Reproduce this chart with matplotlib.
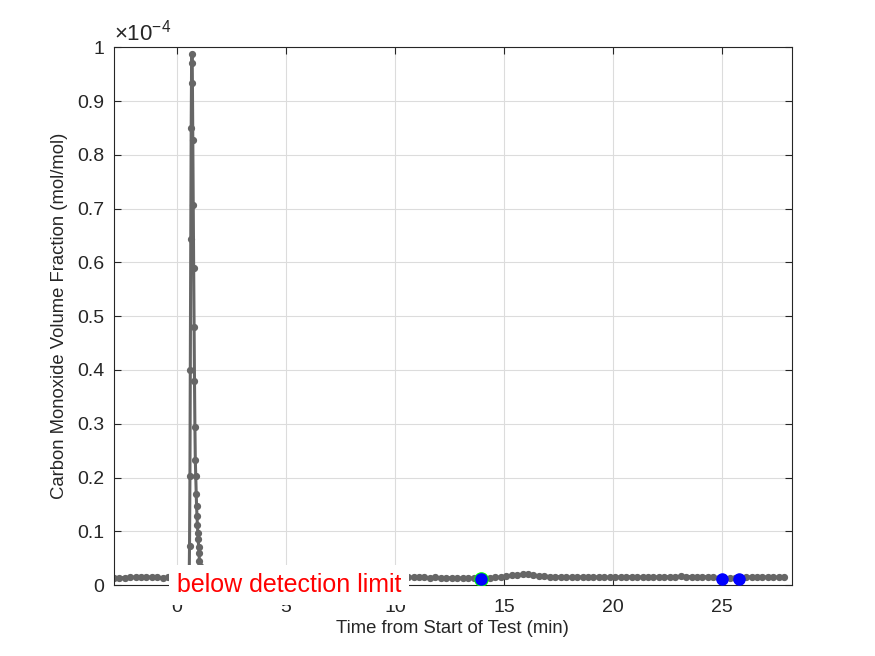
import numpy as np
import matplotlib
matplotlib.use("Agg")
import matplotlib.pyplot as plt
from matplotlib.ticker import FuncFormatter, MultipleLocator

plt.rcParams['font.family'] = ['Liberation Sans', 'DejaVu Sans']
plt.rcParams['mathtext.fontset'] = 'custom'
plt.rcParams['mathtext.rm'] = 'Liberation Sans'

# CO volume fraction, in units of 1e-6 mol/mol
t_pre_start = -2.9
co_pre = [1.35, 1.4, 1.4, 1.45, 1.5, 1.5, 1.45, 1.55, 1.45, 1.4, 1.45, 1.4, 1.4, 1.4]

spike_t = [0.56, 0.575, 0.594, 0.613, 0.632, 0.651, 0.670, 0.689, 0.708, 0.727, 0.746,
           0.765, 0.784, 0.803, 0.822, 0.841, 0.860, 0.879, 0.898, 0.917, 0.936,
           0.955, 0.974, 0.993, 1.012, 1.031, 1.05, 1.07, 1.09, 1.11, 1.15, 1.2]
spike_co = [1.4, 7.2, 20.3, 40.0, 64.3, 84.9, 97.0, 98.7, 93.3, 82.7, 70.6,
            59.0, 48.0, 38.0, 29.4, 23.2, 20.3, 16.9, 14.7, 12.8, 11.2,
            9.7, 8.5, 7.1, 6.0, 4.5, 3.6, 2.9, 2.4, 2.0, 1.7, 1.5]

t_post_start = 1.35
co_post = [1.4, 1.45, 1.4, 1.35, 1.4, 1.45, 1.5, 1.45, 1.4, 1.4,
           1.35, 1.4, 1.45, 1.4, 1.4, 1.5, 1.45, 1.4, 1.35, 1.4,
           1.45, 1.4, 1.4, 1.35, 1.4, 1.45, 1.5, 1.45, 1.4, 1.4,
           1.35, 1.4, 1.45, 1.4, 1.45, 1.5, 1.5,
           1.5, 1.45, 1.5, 1.45, 1.4, 1.45, 1.4, 1.35, 1.4, 1.35,
           1.3, 1.35, 1.3, 1.3, 1.35, 1.4, 1.45, 1.5, 1.65, 1.85,
           1.9, 2.0, 2.05, 1.9, 1.75, 1.7, 1.6, 1.6, 1.55, 1.5,
           1.45, 1.5, 1.55, 1.5, 1.55, 1.5, 1.45, 1.5, 1.55, 1.5,
           1.55, 1.6, 1.55, 1.5, 1.55, 1.5, 1.55, 1.6, 1.55, 1.6,
           1.65, 1.6, 1.6, 1.55, 1.6, 1.55, 1.5, 1.4, 1.35, 1.35,
           1.4, 1.4, 1.5, 1.55, 1.5, 1.55, 1.5, 1.45, 1.5, 1.45]
step = 0.25

green_t = [0.0, 13.95]
green_co = [1.1, 1.1]
blue_t = [13.95, 25.0, 25.78]
blue_co = [1.1, 1.1, 1.1]

t_pre = t_pre_start + step * np.arange(len(co_pre))
t_post = t_post_start + step * np.arange(len(co_post))
t = np.concatenate([t_pre, spike_t, t_post])
co = np.concatenate([co_pre, spike_co, co_post]) * 1e-6

fig = plt.figure(figsize=(8.75, 6.56), dpi=100)
ax = fig.add_axes([0.13, 0.108, 0.775, 0.82])
ax.set_axisbelow(True)

grey = (0.4, 0.4, 0.4)
ax.plot(t, co, '-o', color=grey, lw=2.2, ms=4.2, mec=grey, mfc=grey, zorder=2)
ax.plot(green_t, np.array(green_co) * 1e-6, 'o', color='#00ff00', ms=9.5, zorder=3)
ax.plot(blue_t, np.array(blue_co) * 1e-6, 'o', color='#0000ff', ms=8, zorder=4)

ax.set_xlim(-2.9, 28.2)
ax.set_ylim(0, 1e-4)
ax.xaxis.set_major_locator(MultipleLocator(5))
ax.yaxis.set_major_locator(MultipleLocator(1e-5))
ax.yaxis.set_major_formatter(FuncFormatter(lambda v, p: '%g' % round(v / 1e-4, 2)))

dark = '#262626'
ax.grid(True, color='#dcdcdc', lw=0.8)
ax.tick_params(direction='in', length=5, width=0.8, top=True, right=True,
               labelsize=14, colors=dark)
ax.tick_params(axis='x', pad=10)
ax.tick_params(axis='y', pad=7)
for s in ax.spines.values():
    s.set_color(dark)
    s.set_linewidth(0.8)

ax.set_xlabel('Time from Start of Test (min)', fontsize=13.3, color=dark, labelpad=3)
ax.set_ylabel('Carbon Monoxide Volume Fraction (mol/mol)', fontsize=13.3, color=dark, labelpad=6)
ax.text(0, 1.003, r'$\times\mathregular{10^{-4}}$', transform=ax.transAxes,
        ha='left', va='bottom', fontsize=16, color=dark)

ax.text(0.0, 0.0, 'below detection limit', color='red', fontsize=18,
        ha='left', va='center', zorder=10, clip_on=False,
        bbox=dict(facecolor='white', edgecolor='none', pad=5.8))

fig.savefig('out.png', dpi=100)
